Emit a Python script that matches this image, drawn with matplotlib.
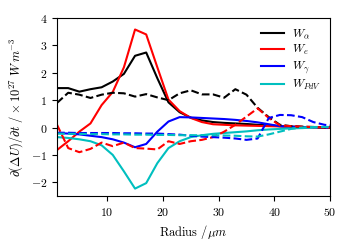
import matplotlib
matplotlib.use("Agg")
import matplotlib.pyplot as plt

plt.rcParams['font.family'] = 'serif'
plt.rcParams['font.serif'] = ['cmr10']
plt.rcParams['mathtext.fontset'] = 'cm'
plt.rcParams['axes.formatter.use_mathtext'] = True
plt.rcParams['font.size'] = 9
plt.rcParams['xtick.labelsize'] = 8.5
plt.rcParams['ytick.labelsize'] = 8.5

# radius grid (um)
radius = [1, 3, 5, 7, 9, 11, 13, 15, 17, 19, 21, 23, 25, 27, 29, 31, 33, 35,
          37, 39, 41, 43, 45, 47, 49, 50]

# solid lines
w_alpha = [1.44, 1.44, 1.31, 1.40, 1.47, 1.68, 1.96, 2.62, 2.74, 1.80, 0.92, 0.56,
           0.36, 0.26, 0.20, 0.17, 0.15, 0.13, 0.10, 0.08, 0.05, 0.03, 0.02, 0.01, 0.0, 0.0]
w_e = [-0.82, -0.50, -0.15, 0.15, 0.82, 1.30, 2.20, 3.58, 3.40, 2.20, 1.02, 0.60,
       0.35, 0.20, 0.12, 0.10, 0.08, 0.07, 0.06, 0.05, 0.04, 0.03, 0.02, 0.01, 0.0, 0.0]
w_gamma = [-0.20, -0.22, -0.25, -0.30, -0.35, -0.43, -0.55, -0.72, -0.60, -0.15, 0.22,
           0.38, 0.37, 0.35, 0.33, 0.31, 0.28, 0.24, 0.19, 0.12, 0.05, 0.03, 0.02, 0.01, 0.0, 0.0]
w_pdv = [-0.35, -0.38, -0.43, -0.50, -0.65, -1.00, -1.60, -2.23, -2.03, -1.30, -0.75,
         -0.50, -0.35, -0.28, -0.23, -0.20, -0.17, -0.14, -0.10, -0.07, -0.05, -0.03, -0.02, 0.0, 0.02, 0.02]

# dashed lines
w_alpha_d = [0.90, 1.27, 1.20, 1.08, 1.20, 1.27, 1.25, 1.13, 1.22, 1.10, 1.00, 1.25,
             1.36, 1.21, 1.21, 1.09, 1.40, 1.20, 0.72, 0.38, 0.10, 0.05, 0.03, 0.02, 0.0, 0.0]
w_e_d = [0.10, -0.75, -0.90, -0.78, -0.55, -0.68, -0.55, -0.75, -0.77, -0.80, -0.50,
         -0.60, -0.50, -0.45, -0.35, -0.15, 0.10, 0.40, 0.70, 0.35, 0.08, 0.05, 0.03, 0.02, 0.0, 0.0]
w_gamma_d = [-0.19, -0.19, -0.20, -0.20, -0.20, -0.20, -0.21, -0.21, -0.22, -0.22, -0.24,
             -0.26, -0.30, -0.33, -0.35, -0.37, -0.40, -0.45, -0.40, 0.35, 0.46, 0.45, 0.38, 0.20, 0.10, 0.08]
w_pdv_d = [-0.22, -0.23, -0.23, -0.24, -0.24, -0.25, -0.25, -0.26, -0.26, -0.27, -0.27,
           -0.28, -0.28, -0.28, -0.28, -0.29, -0.30, -0.32, -0.33, -0.25, -0.15, -0.05, 0.0, 0.02, 0.02, 0.02]

fig = plt.figure(figsize=(3.5, 2.5), dpi=100)
ax = fig.add_axes([0.163, 0.216, 0.78, 0.712])

lw = 1.5
ax.plot(radius, w_alpha, color='k', lw=lw, label=r'$W_\alpha$')
ax.plot(radius, w_e, color='r', lw=lw, label=r'$W_e$')
ax.plot(radius, w_gamma, color='b', lw=lw, label=r'$W_\gamma$')
ax.plot(radius, w_pdv, color='c', lw=lw, label=r'$W_{PdV}$')
ax.plot(radius, w_alpha_d, color='k', lw=lw, ls='--')
ax.plot(radius, w_e_d, color='r', lw=lw, ls='--')
ax.plot(radius, w_gamma_d, color='b', lw=lw, ls='--')
ax.plot(radius, w_pdv_d, color='c', lw=lw, ls='--')

ax.set_xlim(1, 50)
ax.set_ylim(-2.5, 4)
ax.set_xticks([10, 20, 30, 40, 50])
ax.set_yticks([-2, -1, 0, 1, 2, 3, 4])
ax.set_xlabel(r'Radius $/\mu m$')
ax.set_ylabel(r'$\partial(\Delta U)/\partial t\ /\times 10^{27}\ W\,m^{-3}$')
ax.legend(loc='upper right', frameon=False, fontsize=8.5, handlelength=2.0,
          handletextpad=0.6, labelspacing=0.2, borderaxespad=0.4)

fig.savefig('out.png', dpi=100)
